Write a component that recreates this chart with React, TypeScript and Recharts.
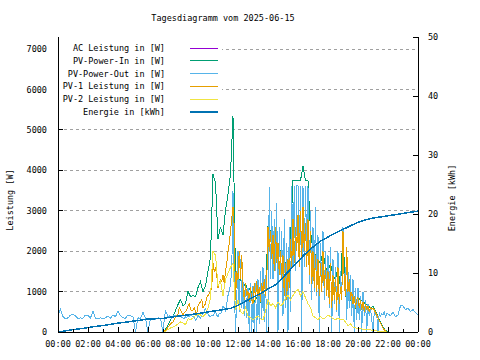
import { LineChart, Line, XAxis, YAxis, CartesianGrid } from "recharts";

const FONT = "'DejaVu Sans Mono', monospace";

const STEP10 = 1 / 6; // 10 Minuten
const STEP5 = 1 / 12; // 5 Minuten

// PV-Power-Out [W]: Nacht 00:00-06:50 (10 min)
const pvOutNacht = [
  420, 560, 380, 330, 350, 420,
  430, 400, 330, 350, 340, 420,
  410, 350, 520, 340, 330, 350,
  320, 350, 400, 340, 420, 380,
  520, 400, 350, 340, 420, 400,
  380, 0, 350, 330, 490, 330,
  0, 340, 330, 320, 350, 330,
];

// PV-Power-Out [W]: Tag 07:00-22:00 (5 min)
const pvOutTag = [
  0, 300, 540, 450, 380, 400, 350, 330, 390, 420, 400, 380,
  380, 420, 400, 360, 350, 330, 380, 360, 400, 380, 420, 400,
  380, 350, 300, 330, 420, 380, 350, 400, 460, 500, 600, 450,
  450, 400, 380, 420, 400, 450, 500, 420, 380, 450, 450, 500,
  650, 600, 500, 700, 900, 1000, 1200, 1500, 3500, 1200, 0, 800,
  2000, 500, 1800, 600, 1250, 400, 1200, 350, 1100, 0, 1200, 0,
  1150, 0, 1200, 0, 1300, 200, 1500, 300, 1600, 250, 1400, 0,
  0, 3600, 1300, 3000, 1300, 2800, 1500, 3200, 0, 2600, 1400, 2500,
  400, 2800, 600, 2200, 0, 2600, 500, 3620, 1600, 3620, 1500, 3620,
  3620, 1800, 3620, 0, 3620, 1600, 3620, 2000, 3620, 1200, 3000, 800,
  2600, 1000, 3100, 900, 2400, 0, 2200, 1100, 2500, 800, 2000, 900,
  1900, 600, 2100, 0, 1800, 700, 1600, 500, 2000, 0, 1500, 900,
  2600, 1200, 1600, 300, 1500, 600, 1400, 400, 1300, 0, 1100, 300,
  1100, 300, 900, 0, 1000, 400, 800, 0, 700, 400, 600, 300,
  0, 500, 450, 420, 0, 480, 400, 450, 420, 500, 380, 450,
  450,
];

// PV-Power-Out [W]: Abend 22:10-24:00 (10 min)
const pvOutAbend = [
  400, 500, 380, 420, 650,
  650, 550, 600, 500, 560, 480,
  420,
];

const dayStart = 7;

// AC-Leistung liegt deckungsgleich unter PV-Power-Out
const acLeistung = pvOutTag;

// PV-Power-In [W], 07:00-22:00 (10 min)
const pvIn = [
  0, 60, 180, 300, 370, 530,
  680, 800, 650, 700, 1000, 880,
  900, 880, 1100, 1250, 1000, 1150,
  1500, 1850, 3900, 3700, 2300, 2600,
  2400, 3000, 3400, 3900, 5350, 1300,
  1300, 1300, 1100, 1200, 1000, 1100,
  700, 800, 900, 750, 950, 900,
  2600, 2500, 2400, 2600, 2200, 2000,
  1900, 1700, 1800, 2300, 3750, 3750,
  3750, 3750, 4100, 3750, 3750, 2500,
  2000, 1900, 1800, 1700, 2000, 1600,
  1500, 1700, 1400, 1300, 1600, 1100,
  2500, 900, 1000, 800, 700, 600,
  850, 800, 750, 700, 650, 600,
  630, 510, 380, 250, 130, 40,
  0,
];

// PV-1 Leistung [W], 07:00-22:00 (5 min)
const pv1 = [
  0, 20, 40, 80, 120, 160, 200, 230, 250, 300, 380, 420,
  450, 600, 550, 480, 430, 470, 500, 560, 650, 700, 560, 520,
  550, 600, 500, 450, 650, 700, 750, 800, 600, 650, 700, 850,
  900, 950, 1000, 1100, 1700, 1500, 1600, 1400, 1100, 1200, 1300, 1250,
  1400, 1200, 1500, 1700, 2000, 2200, 2500, 2800, 3100, 2600, 800, 1500,
  1300, 2000, 1300, 1900, 1100, 800, 1200, 900, 1000, 750, 1100, 800,
  700, 1200, 800, 1250, 900, 1100, 750, 1200, 950, 1300, 900, 1250,
  2600, 2000, 2500, 1800, 2400, 1500, 2600, 1700, 2200, 1400, 2000, 1300,
  1900, 900, 1700, 800, 1800, 1100, 2300, 1600, 2800, 1700, 2600, 2000,
  2900, 1600, 3000, 1800, 3100, 2000, 2700, 1600, 2800, 1400, 2500, 1200,
  2000, 1100, 1900, 1000, 1800, 900, 1700, 1000, 2000, 1100, 1600, 900,
  1500, 700, 1700, 600, 1400, 800, 1300, 550, 1600, 700, 1100, 800,
  2500, 1200, 900, 2100, 1000, 1300, 800, 1000, 700, 900, 600, 800,
  850, 600, 800, 550, 750, 500, 700, 550, 650, 500, 600, 550,
  600, 550, 480, 420, 350, 280, 220, 160, 100, 50, 20, 0,
  0,
];

// PV-2 Leistung [W], 07:00-22:00 (10 min)
const pv2 = [
  0, 20, 60, 100, 120, 150,
  200, 250, 220, 180, 330, 300,
  350, 400, 450, 420, 380, 450,
  600, 850, 2000, 1900, 1150, 1250,
  900, 1300, 1450, 1600, 1700, 550,
  800, 500, 450, 600, 400, 350,
  300, 350, 400, 330, 300, 500,
  800, 650, 700, 600, 750, 650,
  700, 850, 900, 800, 900, 1000,
  1050, 900, 1000, 850, 700, 600,
  400, 350, 300, 380, 330, 350,
  420, 380, 330, 300, 350, 300,
  320, 250, 150, 200, 120, 100,
  90, 80, 70, 60, 60, 50,
  40, 30, 20, 10, 5, 0,
  0,
];

// Energie [kWh], halbstuendlich 00:00 .. 24:00
const energie = [
  0, 0.2, 0.4, 0.55, 0.75, 0.95, 1.1, 1.3, 1.5, 1.65, 1.85, 2.0,
  2.2, 2.25, 2.3, 2.5, 2.7, 2.85, 3.0, 3.2, 3.4, 3.6, 3.8, 4.0,
  4.5, 5.2, 5.9, 6.5, 7.3, 8.0, 9.3, 10.6, 12.0, 13.3, 14.4, 15.4,
  16.1, 16.8, 17.4, 18.0, 18.6, 19.0, 19.3, 19.5, 19.7, 19.9, 20.1, 20.3,
  20.5,
];

const hourTicks = [0, 1, 2, 3, 4, 5, 6, 7, 8, 9, 10, 11, 12, 13, 14, 15, 16, 17, 18, 19, 20, 21, 22, 23, 24];
const gridHours = [0, 2, 4, 6, 8, 10, 12, 14, 16, 18, 20, 22, 24];
const wattTicks = [0, 1000, 2000, 3000, 4000, 5000, 6000, 7000];
const kwhTicks = [0, 10, 20, 30, 40, 50];

const toPoints = (values: number[], start: number, step: number) =>
  values.map((v, i) => ({ t: start + i * step, v }));

const pvOutPoints = [
  ...toPoints(pvOutNacht, 0, STEP10),
  ...toPoints(pvOutTag, dayStart, STEP5),
  ...toPoints(pvOutAbend, 22 + STEP10, STEP10),
];

const series = [
  { name: "AC Leistung in [W]", color: "#9400d3", axis: "w", width: 1, data: toPoints(acLeistung, dayStart, STEP5) },
  { name: "PV-Power-In in [W]", color: "#009e73", axis: "w", width: 1, data: toPoints(pvIn, dayStart, STEP10) },
  { name: "PV-Power-Out in [W]", color: "#56b4e9", axis: "w", width: 1, data: pvOutPoints },
  { name: "PV-1 Leistung in [W]", color: "#e69f00", axis: "w", width: 1, data: toPoints(pv1, dayStart, STEP5) },
  { name: "PV-2 Leistung in [W]", color: "#f0e442", axis: "w", width: 1, data: toPoints(pv2, dayStart, STEP10) },
  { name: "Energie in [kWh]", color: "#0072b2", axis: "e", width: 1.5, data: toPoints(energie, 0, 0.5) },
];

const hourLabel = (h: number) => `${String(h % 24).padStart(2, "0")}:00`;

const txt = { fontFamily: FONT, fontSize: 8.5, fill: "#000" };

function BottomTick({ x, y, payload }: any) {
  const major = payload.value % 2 === 0;
  return (
    <g>
      <line x1={x} x2={x} y1={y} y2={y - (major ? 5 : 3)} stroke="#000" shapeRendering="crispEdges" />
      {major && (
        <text x={x} y={y + 15} textAnchor="middle" {...txt}>
          {hourLabel(payload.value)}
        </text>
      )}
    </g>
  );
}

function TopTick({ x, y, payload }: any) {
  const major = payload.value % 2 === 0;
  return <line x1={x} x2={x} y1={y} y2={y + (major ? 5 : 3)} stroke="#000" shapeRendering="crispEdges" />;
}

function LeftTick({ x, y, payload }: any) {
  return (
    <g>
      <line x1={x} x2={x + 5} y1={y} y2={y} stroke="#000" shapeRendering="crispEdges" />
      <text x={x - 11} y={y + 3} textAnchor="end" {...txt}>
        {payload.value}
      </text>
    </g>
  );
}

function RightTick({ x, y, payload }: any) {
  return (
    <g>
      <line x1={x} x2={x - 5} y1={y} y2={y} stroke="#000" shapeRendering="crispEdges" />
      <text x={x + 10} y={y + 3} textAnchor="start" {...txt}>
        {payload.value}
      </text>
    </g>
  );
}

export default function App() {
  return (
    <div style={{ position: "relative", width: 480, height: 360, background: "#fff" }}>
      <style>{"body{margin:0}"}</style>
      <LineChart width={480} height={360} margin={{ top: 37, right: 0, bottom: 0, left: 0 }}>
        <CartesianGrid
          xAxisId="top"
          yAxisId="w"
          stroke="#a0a0a0"
          strokeDasharray="3 3"
          shapeRendering="crispEdges"
          verticalValues={gridHours}
          horizontalValues={wattTicks}
        />
        <XAxis
          xAxisId="time"
          dataKey="t"
          type="number"
          domain={[0, 24]}
          ticks={hourTicks}
          interval={0}
          height={28}
          tickSize={0}
          tickMargin={0}
          tickLine={false}
          axisLine={{ stroke: "#000", shapeRendering: "crispEdges" }}
          tick={BottomTick}
        />
        <XAxis
          xAxisId="top"
          orientation="top"
          dataKey="t"
          type="number"
          domain={[0, 24]}
          ticks={hourTicks}
          interval={0}
          height={0}
          tickSize={0}
          tickMargin={0}
          tickLine={false}
          axisLine={{ stroke: "#000", shapeRendering: "crispEdges" }}
          tick={TopTick}
        />
        <YAxis
          yAxisId="w"
          orientation="left"
          type="number"
          domain={[0, 7300]}
          ticks={wattTicks}
          interval={0}
          width={58}
          tickSize={0}
          tickMargin={0}
          tickLine={false}
          axisLine={{ stroke: "#000", shapeRendering: "crispEdges" }}
          tick={LeftTick}
        />
        <YAxis
          yAxisId="e"
          orientation="right"
          type="number"
          domain={[0, 50]}
          ticks={kwhTicks}
          interval={0}
          width={62}
          tickSize={0}
          tickMargin={0}
          tickLine={false}
          axisLine={{ stroke: "#000", shapeRendering: "crispEdges" }}
          tick={RightTick}
        />
        {series.map((s) => (
          <Line
            key={s.name}
            xAxisId="time"
            yAxisId={s.axis}
            data={s.data}
            dataKey="v"
            name={s.name}
            type="linear"
            stroke={s.color}
            strokeWidth={s.width}
            shapeRendering="crispEdges"
            dot={false}
            activeDot={false}
            isAnimationActive={false}
          />
        ))}
      </LineChart>
      <svg
        width={480}
        height={360}
        style={{ position: "absolute", left: 0, top: 0, pointerEvents: "none" }}
      >
        <text x={223} y={21} textAnchor="middle" {...txt}>
          Tagesdiagramm vom 2025-06-15
        </text>
        <text transform="translate(13 200) rotate(-90)" textAnchor="middle" {...txt}>
          Leistung [W]
        </text>
        <text transform="translate(455 198) rotate(-90)" textAnchor="middle" {...txt}>
          Energie [kWh]
        </text>
        <rect x={59} y={38} width={163} height={80} fill="#fff" />
        {series.map((s, i) => (
          <g key={s.name}>
            <text x={165} y={51 + i * 12.8} textAnchor="end" {...txt}>
              {s.name}
            </text>
            <line
              x1={190}
              x2={218}
              y1={48 + i * 12.8}
              y2={48 + i * 12.8}
              stroke={s.color}
              strokeWidth={s.width}
              shapeRendering="crispEdges"
            />
          </g>
        ))}
      </svg>
    </div>
  );
}
